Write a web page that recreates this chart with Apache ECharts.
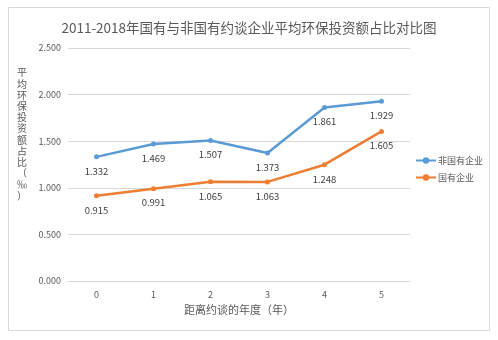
<!DOCTYPE html>
<html><head><meta charset="utf-8">
<script src="https://cdn.jsdelivr.net/npm/echarts@6/dist/echarts.min.js"></script>
<style>html,body{margin:0;padding:0;background:#fff}#c{width:498px;height:340px}</style>
</head><body><div id="c"></div>
<script>
const categories = ['0','1','2','3','4','5'];
const nonStateValues = [1.332, 1.469, 1.507, 1.373, 1.861, 1.929];
const stateValues = [0.915, 0.991, 1.065, 1.063, 1.248, 1.605];
const seriesNames = ['非国有企业', '国有企业'];
const titleText = '2011-2018年国有与非国有约谈企业平均环保投资额占比对比图';
const yName = '平均环保投资额占比（‰）';
const xName = '距离约谈的年度（年）';
const font = '"Noto Sans CJK SC", "Noto Sans", sans-serif';

const chart = echarts.init(document.getElementById('c'));
chart.setOption({
  animation: false,
  backgroundColor: '#fff',
  title: { text: titleText, left: 'center', top: 16,
    textStyle: { fontFamily: font, fontSize: 13.5, fontWeight: 'normal', color: '#595959' } },
  graphic: [
    { type: 'rect', shape: { x: 8.5, y: 7.5, width: 481, height: 323 },
      style: { fill: 'none', stroke: '#d9d9d9', lineWidth: 1 } },
    { type: 'text', left: 17, top: 67,
      style: { text: yName.split('').join('\n'), fontFamily: font, fontSize: 10, lineHeight: 11.2,
        fill: '#595959', align: 'center' } }
  ],
  legend: {
    orient: 'vertical', left: 410, top: 151, itemGap: 8, itemWidth: 20, itemHeight: 8,
    data: seriesNames,
    textStyle: { fontFamily: font, fontSize: 9, color: '#595959', padding: [0, 0, 0, -3] }
  },
  grid: { left: 68, right: 88, top: 48, bottom: 59, containLabel: false },
  xAxis: {
    type: 'category', data: categories, boundaryGap: true,
    name: xName, nameLocation: 'middle', nameGap: 21,
    nameTextStyle: { fontFamily: font, fontSize: 11, color: '#595959' },
    axisLine: { show: true, lineStyle: { color: '#d9d9d9' } },
    axisTick: { show: false },
    axisLabel: { fontFamily: font, fontSize: 9, color: '#595959', margin: 9 }
  },
  yAxis: {
    type: 'value', min: 0, max: 2.5, interval: 0.5,
    axisLine: { show: false }, axisTick: { show: false },
    axisLabel: { fontFamily: font, fontSize: 9, color: '#595959', margin: 7,
      formatter: v => v.toFixed(3) },
    splitLine: { lineStyle: { color: '#d9d9d9' } }
  },
  series: [
    { name: seriesNames[0], type: 'line', data: nonStateValues,
      symbol: 'circle', symbolSize: 5,
      lineStyle: { width: 2.5, color: '#5B9BD5' }, itemStyle: { color: '#5B9BD5' },
      label: { show: true, position: 'bottom', distance: 7, fontFamily: font, fontSize: 9.5,
        color: '#404040', formatter: p => p.value.toFixed(3) } },
    { name: seriesNames[1], type: 'line', data: stateValues,
      symbol: 'circle', symbolSize: 5,
      lineStyle: { width: 2.5, color: '#ED7D31' }, itemStyle: { color: '#ED7D31' },
      label: { show: true, position: 'bottom', distance: 7, fontFamily: font, fontSize: 9.5,
        color: '#404040', formatter: p => p.value.toFixed(3) } }
  ]
});
</script></body></html>
